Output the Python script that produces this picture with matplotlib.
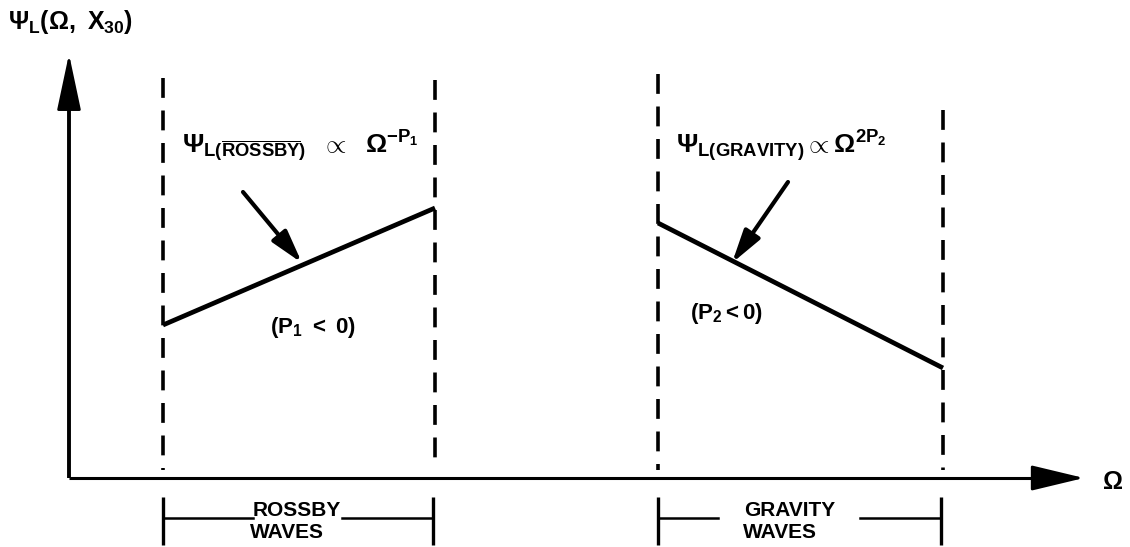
import matplotlib
matplotlib.use("Agg")
import matplotlib.pyplot as plt
from matplotlib.patches import FancyArrowPatch

plt.rcParams["font.family"] = ["Liberation Sans", "DejaVu Sans"]
plt.rcParams["font.weight"] = "bold"
plt.rcParams["mathtext.fontset"] = "custom"
plt.rcParams["mathtext.rm"] = "Liberation Sans:bold"
plt.rcParams["mathtext.it"] = "Liberation Sans:bold"
plt.rcParams["mathtext.bf"] = "Liberation Sans:bold"

# Schematic coordinates (frequency to the right, spectral level upward)
origin = (69, 478)
x_axis_end = 1084
y_axis_top = 54

# Band edges along the frequency axis
rossby_band = [163, 435]
gravity_band = [658, 943]
dash_tops = [78, 80, 74, 110]

# Spectral level at each band edge
rossby_level = [325, 208]
gravity_level = [223, 368]

# Pointer arrows: (tail, head)
rossby_pointer = [(243, 192), (302, 263)]
gravity_pointer = [(788, 182), (732, 263)]

bracket_y = 518
bracket_tick = (497, 545)
rossby_gap = [253, 342]
gravity_gap = [718, 860]

W, H = 1130, 547
fig = plt.figure(figsize=(W / 100, H / 100), dpi=100)
ax = fig.add_axes([0, 0, 1, 1])
ax.set_xlim(0, W)
ax.set_ylim(H, 0)
ax.axis("off")

k = "black"

# axes with arrowheads
ax.plot([origin[0], origin[0]], [origin[1], y_axis_top + 30], color=k, lw=2.8,
        solid_capstyle="butt")
ax.add_patch(FancyArrowPatch((origin[0], y_axis_top + 36), (origin[0], y_axis_top),
                             arrowstyle="-|>,head_length=1.6,head_width=0.34",
                             mutation_scale=22, color=k, lw=2.0,
                             shrinkA=0, shrinkB=0))
ax.plot([origin[0], x_axis_end - 30], [origin[1], origin[1]], color=k, lw=2.2,
        solid_capstyle="butt")
ax.add_patch(FancyArrowPatch((x_axis_end - 36, origin[1]), (x_axis_end, origin[1]),
                             arrowstyle="-|>,head_length=1.5,head_width=0.36",
                             mutation_scale=22, color=k, lw=2.0,
                             shrinkA=0, shrinkB=0))

# dashed band edges
edges = rossby_band + gravity_band
for x, top in zip(edges, dash_tops):
    ax.plot([x, x], [top, origin[1] - 8], color=k, lw=2.6,
            linestyle=(0, (5.5, 3.5)))

# spectral level segments
ax.plot(rossby_band, rossby_level, color=k, lw=3.4, solid_capstyle="butt")
ax.plot(gravity_band, gravity_level, color=k, lw=3.4, solid_capstyle="butt")

# pointer arrows
for tail, head in (rossby_pointer, gravity_pointer):
    ax.add_patch(FancyArrowPatch(tail, head,
                                 arrowstyle="-|>,head_length=1.0,head_width=0.28",
                                 mutation_scale=20, color=k, lw=3.0,
                                 shrinkA=0, shrinkB=0))

# formula labels
ax.text(182, 153, r"$\Psi_{L(\overline{ROSSBY})}$  $\propto$  $\Omega^{-P_1}$",
        fontsize=19, ha="left", va="baseline", color=k)
ax.text(676, 153, r"$\Psi_{L(GRAVITY)}\propto\Omega^{2P_2}$",
        fontsize=19, ha="left", va="baseline", color=k)
ax.text(313, 327, r"$(P_1\ <\ 0)$", fontsize=16, ha="center", va="center", color=k)
ax.text(727, 313, r"$(P_2< 0)$", fontsize=16, ha="center", va="center", color=k)

# axis labels
ax.text(8, 22, r"$\Psi_L(\Omega,\ X_{30})$", fontsize=18, ha="left",
        va="center", color=k)
ax.text(1113, 482, r"$\Omega$", fontsize=18, ha="center", va="center", color=k)

# band brackets beneath the axis
for band, gap, names, cx in (
        (rossby_band, rossby_gap, ("ROSSBY", "WAVES"), 297),
        (gravity_band, gravity_gap, ("GRAVITY", "WAVES"), 790)):
    x0, x1 = band[0], band[1] - 2
    for x in (x0, x1):
        ax.plot([x, x], bracket_tick, color=k, lw=2.4, solid_capstyle="butt")
    ax.plot([x0, gap[0]], [bracket_y, bracket_y], color=k, lw=1.8)
    ax.plot([gap[1], x1], [bracket_y, bracket_y], color=k, lw=1.8)
    ax.text(cx, 511, names[0], fontsize=15, fontweight="bold", ha="center",
            va="center", color=k)
    ax.text(cx - 10, 532, names[1], fontsize=15, fontweight="bold", ha="center",
            va="center", color=k)

fig.savefig("out.png", dpi=100, facecolor="white")
